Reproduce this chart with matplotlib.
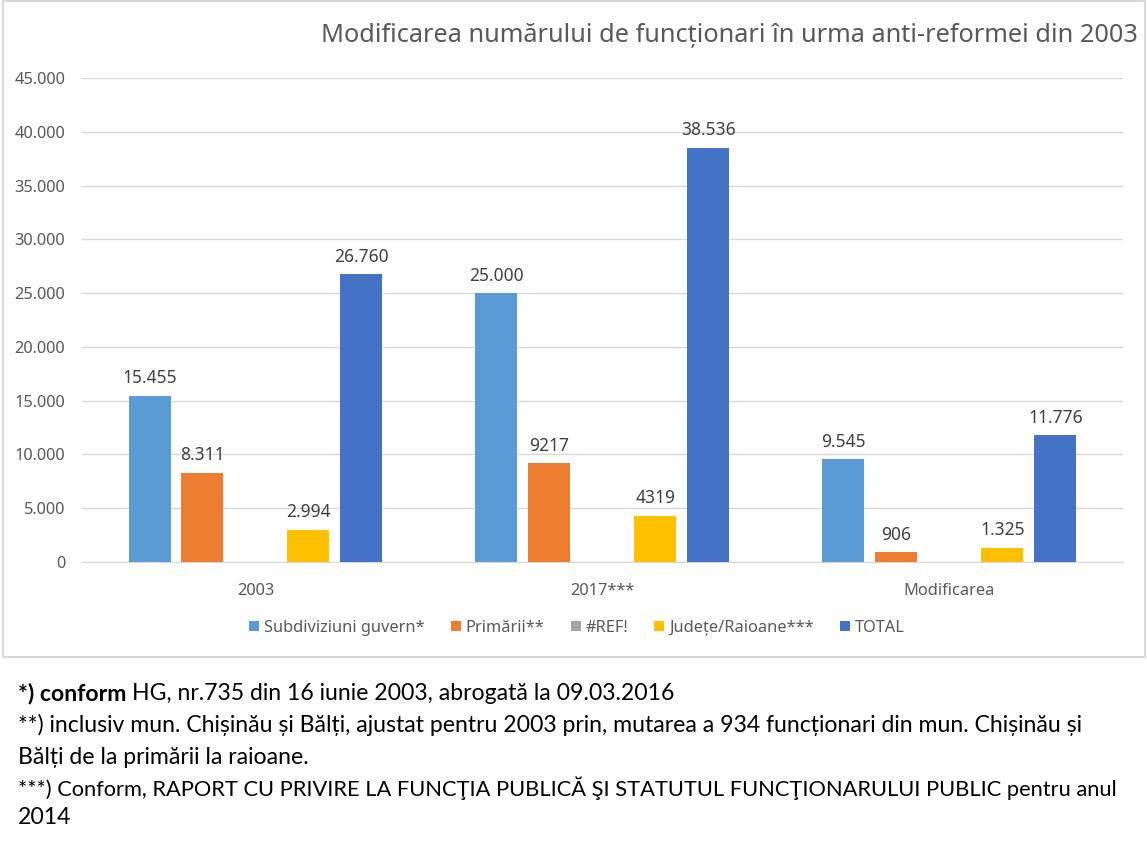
import matplotlib
matplotlib.use('Agg')
from matplotlib import pyplot as plt
from matplotlib.patches import Rectangle
import numpy as np

# data
categories = ['2003', '2017***', 'Modificarea']
series_names = ['Subdiviziuni guvern*', 'Primării**', '#REF!', 'Județe/Raioane***', 'TOTAL']
subdiviziuni = [15455, 25000, 9545]
primarii = [8311, 9217, 906]
ref = [np.nan, np.nan, np.nan]
judete = [2994, 4319, 1325]
total = [26760, 38536, 11776]
labels_subdiviziuni = ['15.455', '25.000', '9.545']
labels_primarii = ['8.311', '9217', '906']
labels_ref = ['', '', '']
labels_judete = ['2.994', '4319', '1.325']
labels_total = ['26.760', '38.536', '11.776']
yticks = [0, 5000, 10000, 15000, 20000, 25000, 30000, 35000, 40000, 45000]
ytick_labels = ['0', '5.000', '10.000', '15.000', '20.000', '25.000', '30.000', '35.000', '40.000', '45.000']

colors = ['#5B9BD5', '#ED7D31', '#A5A5A5', '#FFC000', '#4472C4']
values = [subdiviziuni, primarii, ref, judete, total]
labels = [labels_subdiviziuni, labels_primarii, labels_ref, labels_judete, labels_total]

title = 'Modificarea numărului de funcționari în urma anti-reformei din 2003'

W, H = 1147, 868
fig = plt.figure(figsize=(W / 100, H / 100), dpi=100)
fig.patch.set_facecolor('white')

# chart frame
fig.add_artist(Rectangle((3 / W, (H - 657) / H), 1142 / W, 656 / H,
                         transform=fig.transFigure, fill=False,
                         edgecolor='#D9D9D9', lw=1.5))

ax = fig.add_axes([82 / W, (H - 562) / H, 1041 / W, 484 / H])
x = np.arange(len(categories))
slot = 53 / 347
width = 42 / 347
for i, (vals, col, name, labs) in enumerate(zip(values, colors, series_names, labels)):
    pos = x + (i - 2) * slot
    bars = ax.bar(pos, vals, width=width, color=col, label=name, zorder=3)
    for b, v, s in zip(bars, vals, labs):
        if s:
            ax.annotate(s, (b.get_x() + b.get_width() / 2, v), xytext=(0, 6),
                        textcoords='offset points', ha='center', va='bottom',
                        fontsize=12.5, color='#404040', family='Noto Sans')

ax.set_xlim(-0.5, 2.5)
ax.set_ylim(0, 45000)
ax.set_yticks(yticks)
ax.set_yticklabels(ytick_labels, fontsize=11.8, color='#595959', family='Noto Sans')
ax.set_xticks(x)
ax.set_xticklabels(categories, fontsize=11.8, color='#595959', family='Noto Sans')
ax.tick_params(axis='both', length=0)
ax.tick_params(axis='y', pad=12)
ax.tick_params(axis='x', pad=15)
ax.grid(axis='y', color='#D9D9D9', lw=1, zorder=0)
for s in ['top', 'right', 'left']:
    ax.spines[s].set_visible(False)
ax.spines['bottom'].set_color('#D9D9D9')

fig.text(1138 / W, 1 - 35 / H, title, ha='right', va='center', fontsize=18.2,
         color='#595959', family='Noto Sans')

leg = fig.legend(loc='center', bbox_to_anchor=(577 / W, 1 - 628 / H), ncol=5,
                 frameon=False, handlelength=0.6, handleheight=0.6,
                 handletextpad=0.3, columnspacing=1.6,
                 prop={'family': 'Noto Sans', 'size': 11.8})
for t in leg.get_texts():
    t.set_color('#595959')

# footnotes
fn = dict(color='black', family='Lato', va='center', ha='left')
t1 = fig.text(18 / W, 1 - 693 / H, '*) conform', fontweight='bold', fontsize=16.6, **fn)
fig.canvas.draw()
bb = t1.get_window_extent()
fig.text((bb.x1 + 6) / W, 1 - 693 / H, 'HG, nr.735 din 16 iunie 2003, abrogată la 09.03.2016',
         fontsize=16.6, **fn)
fig.text(18 / W, 1 - 725 / H, '**) inclusiv mun. Chișinău și Bălți, ajustat pentru 2003 prin, mutarea a 934 funcționari din mun. Chișinău și',
         fontsize=16.6, **fn)
fig.text(18 / W, 1 - 757 / H, 'Bălți de la primării la raioane.', fontsize=16.6, **fn)
t4 = fig.text(18 / W, 1 - 788 / H, '***) Conform, RAPORT CU PRIVIRE LA FUNCŢIA PUBLICĂ ŞI STATUTUL FUNCŢIONARULUI PUBLIC pentru anul',
              fontsize=16.6, **fn)
fig.canvas.draw()
w4 = t4.get_window_extent().width
t4.set_fontsize(16.6 * 1100 / w4)
fig.text(18 / W, 1 - 818 / H, '2014', fontsize=16.6, **fn)

fig.savefig('out.png', dpi=100)
